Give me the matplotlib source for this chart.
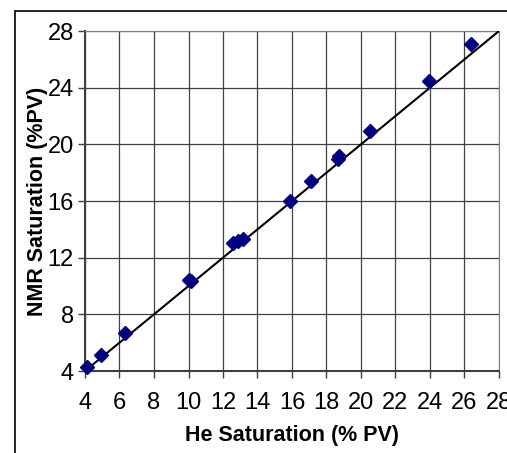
import matplotlib
matplotlib.use("Agg")
import matplotlib.pyplot as plt
from matplotlib.patches import Rectangle

# He vs NMR saturation (% PV)
he_sat = [4.1, 4.9, 6.3, 10.05, 10.15, 12.6, 12.85, 13.15, 15.9, 17.1, 18.65, 18.75, 20.55, 23.95, 26.35]
nmr_sat = [4.3, 5.1, 6.7, 10.4, 10.35, 13.05, 13.2, 13.35, 16.0, 17.4, 19.0, 19.15, 20.95, 24.5, 27.05]
x_ticks = list(range(4, 29, 2))
y_ticks = list(range(4, 29, 4))
line_ends = [4, 28]

plt.rcParams['font.family'] = ['Liberation Sans', 'DejaVu Sans']

fig = plt.figure(figsize=(5.07, 4.53), dpi=100)
W, H = 507, 453
ax = fig.add_axes([85 / W, 1 - 371 / H, (499 - 85) / W, (371 - 31) / H])

# outer chart frame (only left/top visible in the original)
fig.patches.append(Rectangle((15 / W, -0.05), 1.1, 1 - 11 / H + 0.05, transform=fig.transFigure,
                             fill=False, edgecolor='black', linewidth=1.2))

ax.plot(line_ends, line_ends, color='black', linewidth=1.5, zorder=3)
ax.plot(he_sat, nmr_sat, 'D', color='#000080', markersize=7, zorder=4, clip_on=False)

ax.set_xlim(4, 28)
ax.set_ylim(4, 28)
ax.set_xticks(x_ticks)
ax.set_yticks(y_ticks)
ax.grid(True, color='#404040', linewidth=0.9)
ax.set_axisbelow(True)

for side in ['top', 'right']:
    ax.spines[side].set_color('#808080')
for side in ['left', 'bottom']:
    ax.spines[side].set_color('#404040')
    ax.spines[side].set_linewidth(1.5)
ax.tick_params(direction='out', length=5, width=1, color='#404040', labelsize=17)
ax.tick_params(axis='x', pad=10)
ax.tick_params(axis='y', pad=3)

ax.set_xlabel('He Saturation (% PV)', fontsize=15.5, fontweight='bold', labelpad=8)
ax.set_ylabel('NMR Saturation (%PV)', fontsize=15.5, fontweight='bold', labelpad=0)

fig.savefig('out.png', dpi=100)
